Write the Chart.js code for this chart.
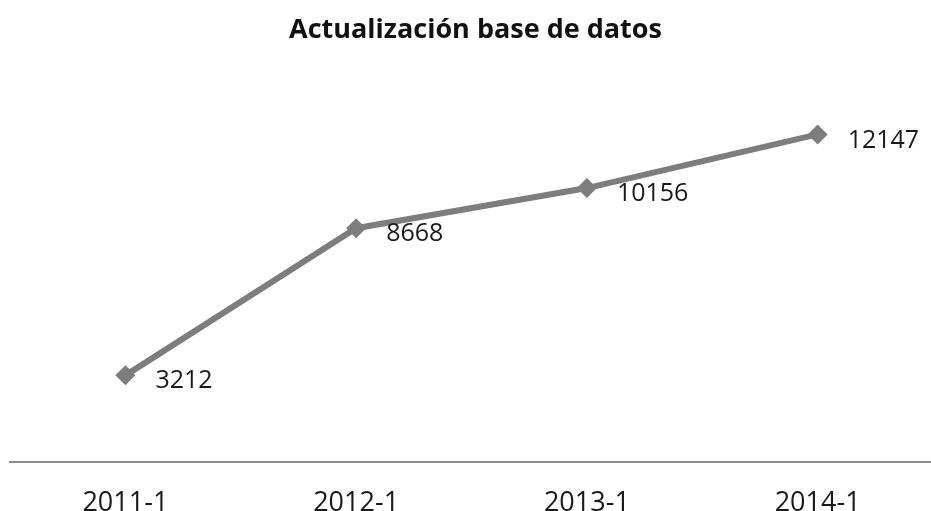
<!DOCTYPE html>
<html>
<head>
<meta charset="utf-8">
<script src="https://cdn.jsdelivr.net/npm/chart.js@4"></script>
<style>
html,body{margin:0;padding:0;background:#fff;overflow:hidden;}
#wrap{width:943px;height:511px;}
</style>
</head>
<body>
<div id="wrap"><canvas id="c"></canvas></div>
<script>
const categories = ["2011-1", "2012-1", "2013-1", "2014-1"];
const values = [3212, 8668, 10156, 12147];
const chartTitle = "Actualización base de datos";

const labelPlugin = {
  id: 'pointLabels',
  afterDatasetsDraw(chart) {
    const ctx = chart.ctx;
    const meta = chart.getDatasetMeta(0);
    ctx.save();
    ctx.font = '25px "Open Sans", sans-serif';
    ctx.fillStyle = '#1a1a1a';
    ctx.textAlign = 'left';
    ctx.textBaseline = 'middle';
    meta.data.forEach((pt, i) => {
      ctx.fillText(String(values[i]), pt.x + 30, pt.y + 6);
    });
    ctx.restore();
  }
};

new Chart(document.getElementById('c'), {
  type: 'line',
  data: {
    labels: categories,
    datasets: [{
      data: values,
      borderColor: '#7d7d7d',
      backgroundColor: '#7d7d7d',
      borderWidth: 6,
      pointStyle: 'rectRot',
      pointRadius: 10,
      pointHoverRadius: 10,
      pointBorderWidth: 0,
      tension: 0
    }]
  },
  options: {
    responsive: true,
    maintainAspectRatio: false,
    animation: false,
    layout: { padding: { left: 8, right: 0, top: 0, bottom: 0 } },
    plugins: {
      legend: { display: false },
      tooltip: { enabled: false },
      title: {
        display: true,
        text: chartTitle,
        color: '#111',
        font: { family: '"Open Sans", sans-serif', size: 27, weight: 'bold' },
        padding: { top: 14, bottom: 38 }
      }
    },
    scales: {
      x: {
        offset: true,
        grid: { display: false, drawTicks: false },
        border: { display: true, color: '#8c8c8c', width: 2 },
        ticks: {
          color: '#1a1a1a',
          padding: 25,
          font: { family: '"Open Sans", sans-serif', size: 27 }
        },
        afterFit(scale) { scale.height = 49; }
      },
      y: {
        display: false,
        min: 0,
        max: 14000
      }
    }
  },
  plugins: [labelPlugin]
});
</script>
</body>
</html>
